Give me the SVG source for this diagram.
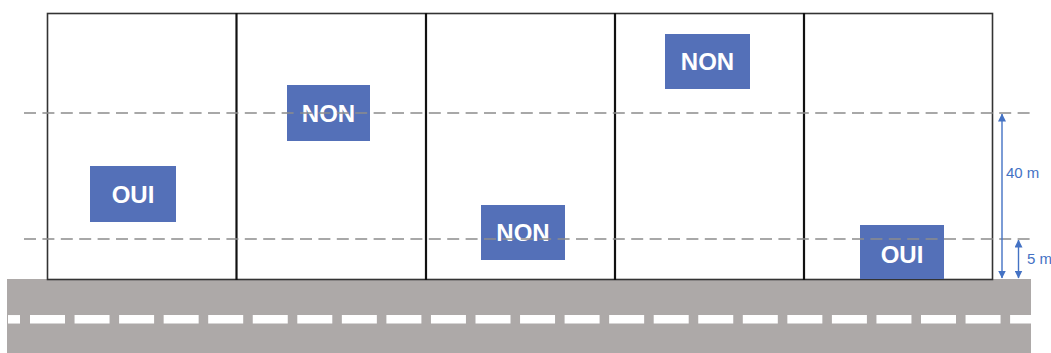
<svg xmlns="http://www.w3.org/2000/svg" width="1051" height="353" viewBox="0 0 1051 353">
<style>
.lot{fill:#ffffff;stroke:#333333;stroke-width:1.6}
.div{stroke:#111111;stroke-width:2.2}
.tag{fill:#5470b8}
.lbl{font-family:"Liberation Sans",Arial,sans-serif;font-weight:bold;font-size:24px;fill:#ffffff;text-anchor:middle}
.dash{stroke:#8c8c8c;stroke-width:1.4;stroke-dasharray:12 6.4;fill:none}
.dim{stroke:#4472c4;stroke-width:1.4;fill:none}
.dimt{font-family:"Liberation Sans",Arial,sans-serif;font-size:15px;fill:#4472c4}
.mark{stroke:#ffffff;stroke-width:8.5}
</style>
<defs>
<marker id="ah" viewBox="0 0 8 8" refX="7.5" refY="4" markerWidth="8" markerHeight="8" markerUnits="userSpaceOnUse" orient="auto-start-reverse">
<path d="M0,0 L8,4 L0,8 Z" fill="#4472c4"/>
</marker>
</defs>
<rect width="1051" height="353" fill="#ffffff"/>
<g id="road">
<rect x="7" y="279" width="1024" height="74" fill="#ada9a8"/>
<line class="mark" x1="8" y1="319.3" x2="20" y2="319.3"/>
<line class="mark" x1="30" y1="319.3" x2="1031" y2="319.3" stroke-dasharray="35 9.55"/>
</g>
<g id="lots">
<rect class="lot" x="47.5" y="13.5" width="945" height="266"/>
<line class="div" x1="236.5" y1="13" x2="236.5" y2="280"/>
<line class="div" x1="426" y1="13" x2="426" y2="280"/>
<line class="div" x1="615" y1="13" x2="615" y2="280"/>
<line class="div" x1="804" y1="13" x2="804" y2="280"/>
</g>
<g id="n1">
<rect class="tag" x="90" y="166" width="86" height="56"/>
<text class="lbl" x="133" y="202.5">OUI</text>
</g>
<g id="n2">
<rect class="tag" x="287" y="85" width="83" height="56"/>
<text class="lbl" x="328.5" y="121.5">NON</text>
</g>
<g id="n3">
<rect class="tag" x="481" y="205" width="84" height="55"/>
<text class="lbl" x="523" y="241">NON</text>
</g>
<g id="n4">
<rect class="tag" x="665" y="34" width="85" height="55"/>
<text class="lbl" x="707.5" y="70">NON</text>
</g>
<g id="n5">
<rect class="tag" x="860" y="225" width="84" height="54"/>
<text class="lbl" x="902" y="263">OUI</text>
</g>
<g id="connectors">
<line class="dash" x1="24" y1="113" x2="1030" y2="113"/>
<line class="dash" x1="24" y1="239" x2="1030" y2="239"/>
<line class="dim" x1="1002" y1="114" x2="1002" y2="278" marker-start="url(#ah)" marker-end="url(#ah)"/>
<line class="dim" x1="1018.5" y1="240" x2="1018.5" y2="278" marker-start="url(#ah)" marker-end="url(#ah)"/>
<text class="dimt" x="1006" y="177.5">40 m</text>
<text class="dimt" x="1027" y="264">5 m</text>
</g>
</svg>
